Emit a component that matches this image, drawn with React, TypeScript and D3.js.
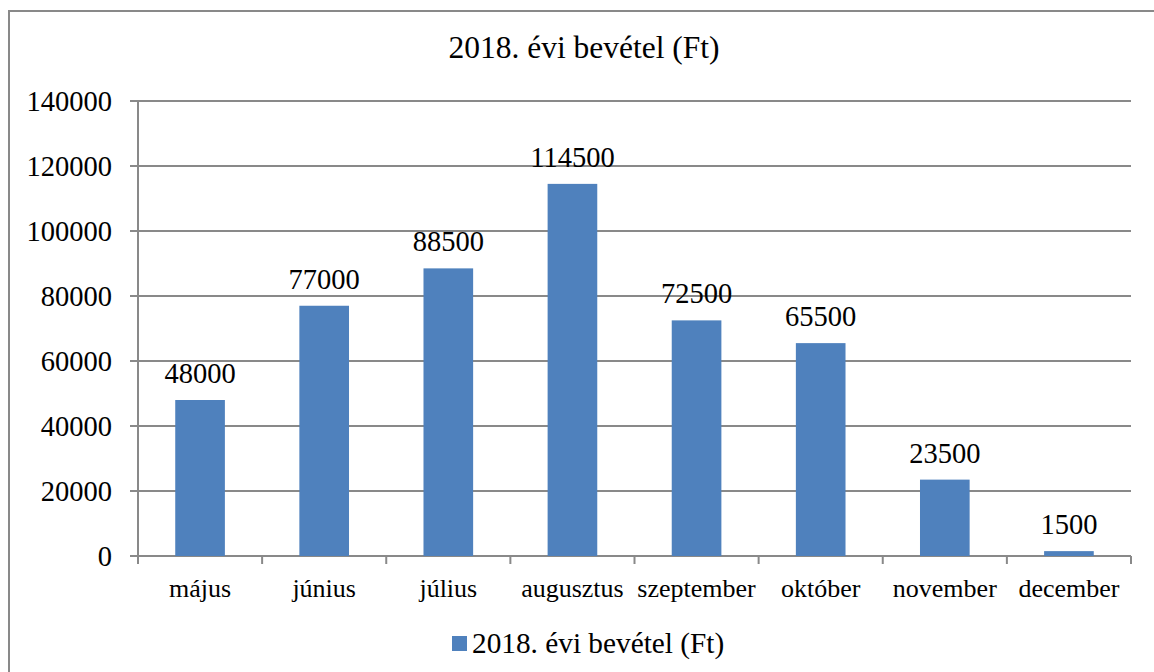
import { useEffect } from 'react'
import { scaleBand, scaleLinear } from 'd3'

const months = ['május', 'június', 'július', 'augusztus', 'szeptember', 'október', 'november', 'december']
const revenue = [48000, 77000, 88500, 114500, 72500, 65500, 23500, 1500]
const yTicks = [0, 20000, 40000, 60000, 80000, 100000, 120000, 140000]
const seriesName = '2018. évi bevétel (Ft)'

const width = 1154
const height = 672
const plot = { left: 138, right: 1131, top: 101, bottom: 556 }

const barColor = '#4F81BD'
const lineColor = '#898989'
const font = '"Liberation Serif", "Times New Roman", serif'

function App() {
  useEffect(() => {
    document.body.style.margin = '0'
  }, [])

  // bars are 40% of each category slot, centred
  const xScale = scaleBand()
    .domain(months)
    .range([plot.left, plot.right])
    .paddingInner(0.6)
    .paddingOuter(0.3)

  const band = scaleBand().domain(months).range([plot.left, plot.right])

  const yScale = scaleLinear()
    .domain([0, 140000])
    .range([plot.bottom, plot.top])

  return (
    <svg width={width} height={height} style={{ display: 'block', fontFamily: font }}>
      <rect x={0} y={0} width={width} height={height} fill="white" />
      <rect x={9} y={11} width={width + 10} height={height + 10} fill="none" stroke={lineColor} strokeWidth={2} />

      <text x={584} y={58} textAnchor="middle" fontSize={31.5} fill="#000">{seriesName}</text>

      {yTicks.map(t => (
        <g key={t}>
          <line x1={plot.left - 8} x2={plot.right} y1={yScale(t)} y2={yScale(t)} stroke={lineColor} strokeWidth={2} />
          <text x={112} y={yScale(t)} dy="0.35em" textAnchor="end" fontSize={28.5} fill="#000">{t}</text>
        </g>
      ))}

      <line x1={plot.left} x2={plot.left} y1={plot.top} y2={plot.bottom} stroke={lineColor} strokeWidth={2} />

      {months.map(m => (
        <line key={m} x1={band(m)} x2={band(m)} y1={plot.bottom} y2={plot.bottom + 8} stroke={lineColor} strokeWidth={2} />
      ))}
      <line x1={plot.right} x2={plot.right} y1={plot.bottom} y2={plot.bottom + 8} stroke={lineColor} strokeWidth={2} />

      {months.map((m, i) => (
        <rect
          key={m}
          x={xScale(m)}
          y={yScale(revenue[i])}
          width={xScale.bandwidth()}
          height={plot.bottom - yScale(revenue[i])}
          fill={barColor}
        />
      ))}

      {months.map((m, i) => (
        <text
          key={m}
          x={(band(m) ?? 0) + band.bandwidth() / 2}
          y={yScale(revenue[i]) - 17}
          textAnchor="middle"
          fontSize={28.5}
          fill="#000"
        >{revenue[i]}</text>
      ))}

      {months.map(m => (
        <text
          key={m}
          x={(band(m) ?? 0) + band.bandwidth() / 2}
          y={597}
          textAnchor="middle"
          fontSize={26}
          fill="#000"
        >{m}</text>
      ))}

      <rect x={452} y={636} width={15} height={15} fill={barColor} />
      <text x={472} y={653} fontSize={29.3} fill="#000">{seriesName}</text>
    </svg>
  )
}

export default App
